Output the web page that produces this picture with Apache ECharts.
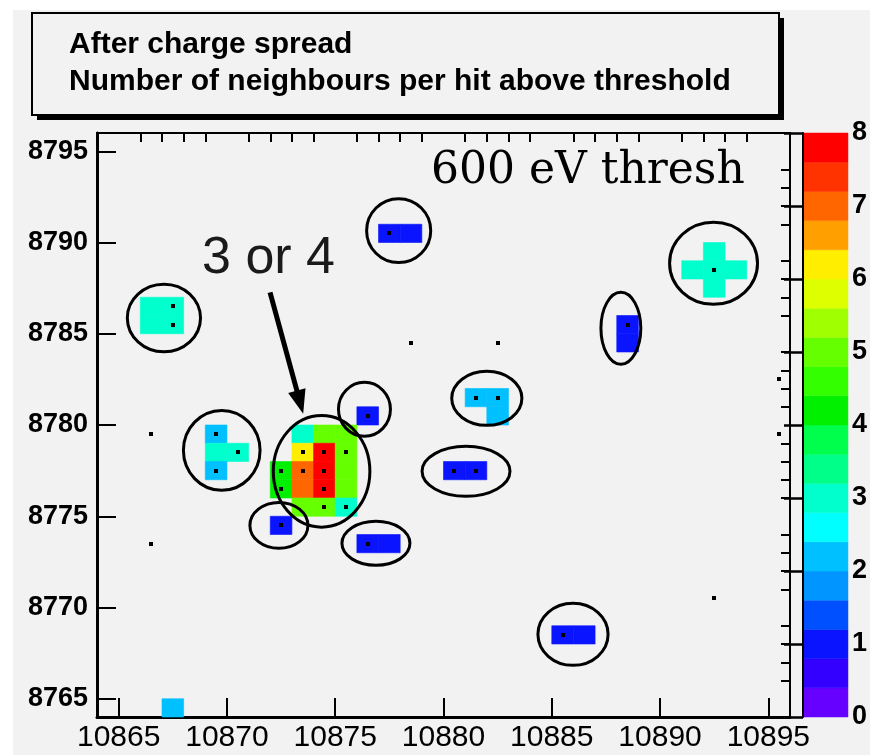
<!DOCTYPE html>
<html>
<head>
<meta charset="utf-8">
<script src="https://cdn.jsdelivr.net/npm/echarts@6/dist/echarts.min.js"></script>
<style>
  html, body { margin: 0; padding: 0; background: #ffffff; }
  #wrap { position: relative; width: 870px; height: 755px; overflow: hidden; }
  #canvasBg { position: absolute; left: 13px; top: 10px; right: 0; bottom: 0; background: #f2f2f2; }
  #chart { position: absolute; left: 0; top: 0; width: 870px; height: 755px; }
</style>
</head>
<body>
<div id="wrap">
  <div id="canvasBg"></div>
  <div id="chart"></div>
</div>
<script>
// Pixel map extent (bin edges) and axis tick labels
const xRange = [10864, 10896];
const yRange = [8764, 8796];
const xTickLabels = [10865, 10870, 10875, 10880, 10885, 10890, 10895];
const yTickLabels = [8765, 8770, 8775, 8780, 8785, 8790, 8795];
const zTickLabels = [0, 1, 2, 3, 4, 5, 6, 7, 8];

// Number of neighbours above threshold for each pixel: [column, row, count]
const neighbourCounts = [
  [10867, 8764, 2],
  [10866, 8785, 3], [10866, 8786, 3], [10867, 8785, 3], [10867, 8786, 3],
  [10877, 8790, 1], [10878, 8790, 1],
  [10876, 8780, 1],
  [10881, 8781, 2], [10882, 8781, 2], [10882, 8780, 2],
  [10869, 8779, 2], [10869, 8778, 3], [10870, 8778, 3], [10869, 8777, 2],
  [10873, 8779, 3], [10874, 8779, 5], [10875, 8779, 5],
  [10873, 8778, 6], [10874, 8778, 8], [10875, 8778, 5],
  [10872, 8777, 4], [10873, 8777, 7], [10874, 8777, 8], [10875, 8777, 5],
  [10872, 8776, 4], [10873, 8776, 7], [10874, 8776, 8], [10875, 8776, 5],
  [10873, 8775, 5], [10874, 8775, 5], [10875, 8775, 3],
  [10872, 8774, 1],
  [10876, 8773, 1], [10877, 8773, 1],
  [10880, 8777, 1], [10881, 8777, 1],
  [10888, 8785, 1], [10888, 8784, 1],
  [10891, 8788, 3], [10892, 8788, 3], [10893, 8788, 3], [10892, 8789, 3], [10892, 8787, 3],
  [10885, 8768, 1], [10886, 8768, 1]
];

// Pixels holding a hit above threshold: [column, row]
const hitPixels = [
  [10867, 8786], [10867, 8785],
  [10877, 8790],
  [10878, 8784], [10882, 8784],
  [10876, 8780],
  [10881, 8781], [10882, 8781],
  [10869, 8779], [10870, 8778], [10869, 8777],
  [10873, 8778], [10874, 8778], [10875, 8778],
  [10872, 8777], [10873, 8777], [10874, 8777],
  [10872, 8776], [10874, 8776],
  [10874, 8775], [10875, 8775],
  [10872, 8774],
  [10876, 8773],
  [10880, 8777], [10881, 8777],
  [10888, 8785],
  [10892, 8788],
  [10885, 8768],
  [10866, 8779], [10866, 8773], [10895, 8782], [10895, 8779], [10892, 8770]
];

// Contour levels of the colour scale and their colours (bottom to top)
const zLevels = [0, 0.4, 0.8, 1.2, 1.6, 2.0, 2.4, 2.8, 3.2, 3.6, 4.0, 4.4, 4.8, 5.2, 5.6, 6.0, 6.4, 6.8, 7.2, 7.6, 8.0];
const zPalette = [
  '#6600ff', '#3300ff', '#0a14ff', '#0050ff', '#0095ff',
  '#00c0ff', '#00ffff', '#00ffcc', '#00ff88', '#00ff4c',
  '#00f000', '#33ff00', '#66ff00', '#a0ff00', '#ddff00',
  '#ffee00', '#ffa000', '#ff6600', '#ff3300', '#ff0000'
];

// Hand-drawn rings around the clusters: [centre x, centre y, half width, half height] in axis units
const rings = [
  [10867.09, 8785.86, 1.69, 1.85],
  [10877.93, 8790.65, 1.48, 1.75],
  [10876.35, 8780.86, 1.20, 1.48],
  [10882.00, 8781.46, 1.62, 1.48],
  [10869.76, 8778.61, 1.77, 2.19],
  [10874.37, 8777.46, 2.23, 3.06],
  [10872.40, 8774.50, 1.34, 1.26],
  [10876.88, 8773.52, 1.57, 1.21],
  [10881.04, 8777.46, 2.03, 1.37],
  [10888.19, 8785.30, 0.92, 1.97],
  [10892.47, 8788.86, 2.03, 2.25],
  [10885.98, 8768.53, 1.62, 1.70]
];

const FONT = 'Liberation Sans, Arial, sans-serif';
const plain = v => String(v);

const minorOf = (range, majors) => {
  const out = [];
  for (let v = range[0] + 1; v < range[1]; v++) if (majors.indexOf(v) < 0) out.push(v);
  return out;
};

const pieces = zPalette.map((c, i) => (
  i === zPalette.length - 1
    ? { gte: zLevels[i], lte: zLevels[i + 1], color: c }
    : { gte: zLevels[i], lt: zLevels[i + 1], color: c }
));

const plotGrid = { left: 97, top: 133, width: 693, height: 584 };
const barGrid = { left: 803, top: 133, width: 46, height: 584 };

const majorAxis = (range, ticks, isX) => ({
  type: 'value', gridIndex: 0, min: range[0], max: range[1],
  axisLine: { show: true, onZero: false, lineStyle: { color: '#000', width: 3 } },
  axisTick: { show: true, inside: true, length: 19, customValues: ticks, lineStyle: { color: '#000', width: 2 } },
  axisLabel: isX
    ? { customValues: ticks, formatter: plain, color: '#000', fontFamily: FONT, fontSize: 30, margin: 6 }
    : { customValues: ticks, formatter: plain, color: '#000', fontFamily: FONT, fontSize: 27, fontWeight: 'bold', margin: 9 },
  splitLine: { show: false }
});
const minorAxis = (range, ticks) => ({
  type: 'value', gridIndex: 0, min: range[0], max: range[1],
  axisLine: { show: false, onZero: false },
  axisTick: { show: true, inside: true, length: 9, customValues: minorOf(range, ticks), lineStyle: { color: '#000', width: 2 } },
  axisLabel: { show: false },
  splitLine: { show: false }
});

const option = {
  backgroundColor: 'transparent',
  animation: false,
  grid: [
    Object.assign({ show: true, borderColor: '#000', borderWidth: 2, backgroundColor: '#f2f2f2' }, plotGrid),
    Object.assign({ show: false }, barGrid)
  ],
  xAxis: [
    majorAxis(xRange, xTickLabels, true),
    minorAxis(xRange, xTickLabels),
    { type: 'value', gridIndex: 1, min: 0, max: 1, show: false }
  ],
  yAxis: [
    majorAxis(yRange, yTickLabels, false),
    minorAxis(yRange, yTickLabels),
    {
      type: 'value', gridIndex: 1, min: 0, max: 8, interval: 1, position: 'right', z: 10,
      axisLine: { show: true, lineStyle: { color: '#000', width: 2 } },
      axisTick: { show: true, inside: true, length: 19, lineStyle: { color: '#000', width: 2.5 } },
      axisLabel: { color: '#000', fontFamily: FONT, fontSize: 27, fontWeight: 'bold', margin: 4,
        customValues: zTickLabels, formatter: plain },
      splitLine: { show: false }
    }
  ],
  visualMap: {
    type: 'piecewise', show: false, dimension: 2, seriesIndex: 0, pieces: pieces
  },
  series: [
    {
      name: 'neighbours',
      type: 'custom',
      xAxisIndex: 0, yAxisIndex: 0,
      dimensions: ['col', 'row', 'count'],
      encode: { x: 0, y: 1 },
      data: neighbourCounts,
      renderItem: function (params, api) {
        const c = api.value(0), r = api.value(1);
        const a = api.coord([c, r + 1]);
        const b = api.coord([c + 1, r]);
        const col = api.visual('color');
        return {
          type: 'rect',
          shape: { x: a[0], y: a[1], width: b[0] - a[0], height: b[1] - a[1] },
          style: { fill: col, stroke: col, lineWidth: 0.6 }
        };
      }
    },
    {
      // hit markers: small black squares at the pixel centres, snapped to whole screen pixels
      name: 'hits',
      type: 'custom',
      xAxisIndex: 0, yAxisIndex: 0,
      encode: { x: 0, y: 1 },
      data: hitPixels,
      z: 5,
      renderItem: function (params, api) {
        const p = api.coord([api.value(0) + 0.5, api.value(1) + 0.5]);
        return {
          type: 'rect',
          shape: { x: Math.round(p[0]) - 2, y: Math.round(p[1]) - 2, width: 4, height: 4 },
          style: { fill: '#000' }
        };
      }
    },
    {
      name: 'scale',
      type: 'custom',
      xAxisIndex: 2, yAxisIndex: 2,
      data: zPalette.map((c, i) => [zLevels[i], zLevels[i + 1]]),
      encode: { y: [0, 1] },
      renderItem: function (params, api) {
        const a = api.coord([0, api.value(1)]);
        const b = api.coord([1, api.value(0)]);
        const col = zPalette[params.dataIndex];
        return {
          type: 'rect',
          shape: { x: a[0], y: a[1], width: b[0] - a[0], height: b[1] - a[1] },
          style: { fill: col, stroke: col, lineWidth: 0.5 }
        };
      }
    }
  ]
};

const chart = echarts.init(document.getElementById('chart'), null, { renderer: 'canvas' });
chart.setOption(option);

// Annotations: title box, rings, arrow and labels placed in axis units
const toPx = p => chart.convertToPixel({ xAxisIndex: 0, yAxisIndex: 0 }, p);
const gfx = [];

gfx.push({ type: 'rect', z: 100, shape: { x: 37, y: 18, width: 747, height: 102 }, style: { fill: '#000' } });
gfx.push({ type: 'rect', z: 101, shape: { x: 32, y: 13, width: 747, height: 102 },
  style: { fill: '#f2f2f2', stroke: '#000', lineWidth: 2 } });
gfx.push({ type: 'text', z: 102, x: 69, y: 45,
  style: { text: 'After charge spread', fill: '#000', font: 'bold 30px ' + FONT, textAlign: 'left', textVerticalAlign: 'middle' } });
gfx.push({ type: 'text', z: 102, x: 69, y: 82,
  style: { text: 'Number of neighbours per hit above threshold', fill: '#000', font: 'bold 30px ' + FONT, textAlign: 'left', textVerticalAlign: 'middle' } });

rings.forEach(r => {
  const c = toPx([r[0], r[1]]);
  const ex = toPx([r[0] + r[2], r[1]]);
  const ey = toPx([r[0], r[1] + r[3]]);
  gfx.push({
    type: 'ellipse', z: 110,
    shape: { cx: c[0], cy: c[1], rx: Math.abs(ex[0] - c[0]), ry: Math.abs(c[1] - ey[1]) },
    style: { fill: 'none', stroke: '#000', lineWidth: 3 }
  });
});

// arrow from the "3 or 4" label to the large cluster
const aStart = toPx([10871.99, 8787.27]);
const aTip = toPx([10873.52, 8780.62]);
const dx = aTip[0] - aStart[0], dy = aTip[1] - aStart[1];
const len = Math.sqrt(dx * dx + dy * dy);
const ux = dx / len, uy = dy / len;
const headLen = 24, headHalf = 9;
const base = [aTip[0] - ux * headLen, aTip[1] - uy * headLen];
gfx.push({ type: 'line', z: 110, shape: { x1: aStart[0], y1: aStart[1], x2: base[0] + ux * 2, y2: base[1] + uy * 2 },
  style: { stroke: '#000', lineWidth: 5 } });
gfx.push({ type: 'polygon', z: 110,
  shape: { points: [aTip, [base[0] - uy * headHalf, base[1] + ux * headHalf], [base[0] + uy * headHalf, base[1] - ux * headHalf]] },
  style: { fill: '#000' } });

const lbl1 = toPx([10868.85, 8789.11]);
gfx.push({ type: 'text', z: 110, x: lbl1[0], y: lbl1[1],
  style: { text: '3 or 4', fill: '#1a1a1a', font: '52px ' + FONT, textAlign: 'left', textVerticalAlign: 'middle' } });
const lbl2 = toPx([10879.42, 8793.90]);
gfx.push({ type: 'text', z: 110, x: lbl2[0], y: lbl2[1],
  style: { text: '600 eV thresh', fill: '#000', font: '44px DejaVu Serif, serif', textAlign: 'left', textVerticalAlign: 'middle' } });

chart.setOption({ graphic: { elements: gfx } });
</script>
</body>
</html>
